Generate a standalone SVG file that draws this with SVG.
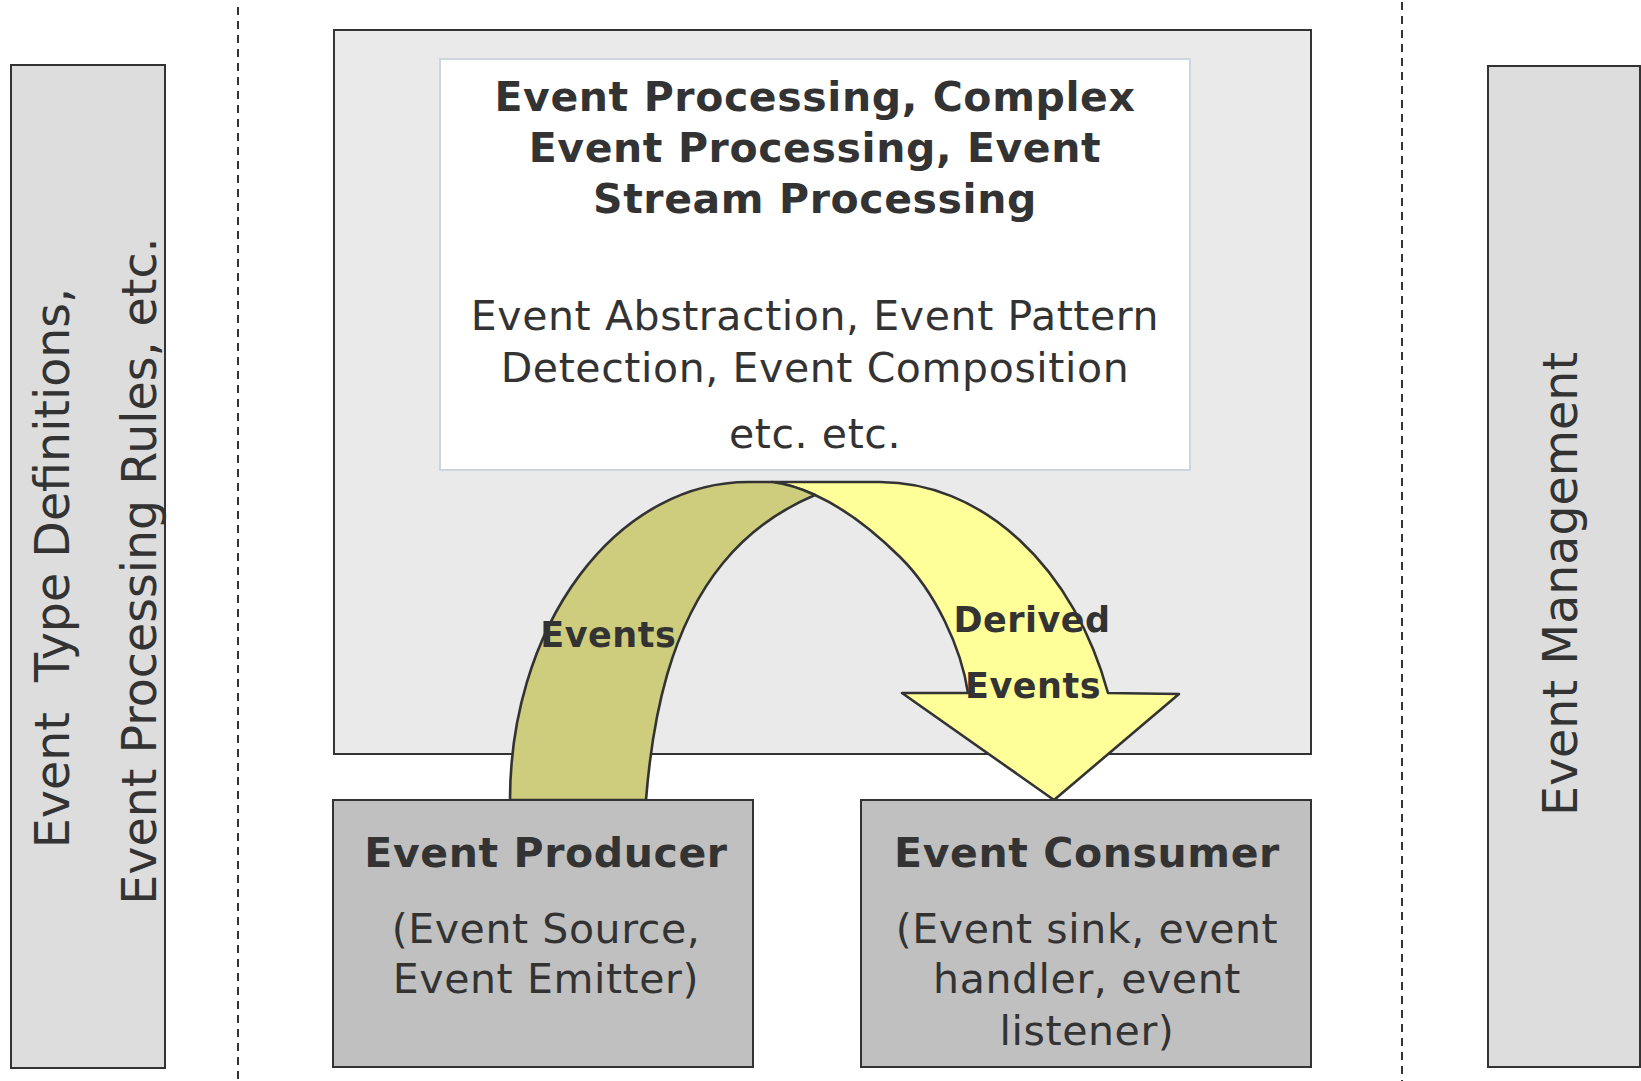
<svg xmlns="http://www.w3.org/2000/svg" width="1641" height="1081" viewBox="0 0 1641 1081">
<style>
.bx{stroke:#333;stroke-width:2}
.side{fill:#dddddd}
.main{fill:#eaeaea}
.pc{fill:#c0c0c0}
.t{font-family:"DejaVu Sans","Liberation Sans",sans-serif;fill:#333;text-anchor:middle}
.b{font-weight:bold;font-size:41px;letter-spacing:0.6px}
.r{font-size:41px;letter-spacing:0.6px}
.s{font-size:47.5px}
.lab{font-weight:bold;font-size:35px;letter-spacing:0.5px}
.dash{stroke:#333;stroke-width:2;stroke-dasharray:8 6;fill:none}
.arr{stroke:#333;stroke-width:2.6;stroke-linejoin:round}
</style>
<rect width="1641" height="1081" fill="#ffffff"/>
<g id="separators">
<line class="dash" x1="238" y1="7" x2="238" y2="1081"/>
<line class="dash" x1="1402" y1="2" x2="1402" y2="1081"/>
</g>
<g id="event-definitions">
<rect class="bx side" x="11" y="65" width="154" height="1003"/>
<text class="t s" xml:space="preserve" transform="translate(68.5,568) rotate(-90)">Event  Type Definitions,</text>
<text class="t s" transform="translate(155.5,571) rotate(-90)">Event Processing Rules, etc.</text>
</g>
<g id="event-management">
<rect class="bx side" x="1488" y="66" width="152" height="1001"/>
<text class="t s" transform="translate(1577,584) rotate(-90)">Event Management</text>
</g>
<g id="processing">
<rect class="bx main" x="334" y="30" width="977" height="724"/>
<rect x="440" y="59" width="750" height="411" fill="#ffffff" stroke="#cdd6e0" stroke-width="2"/>
<text class="t b" x="815" y="110.7">Event Processing, Complex</text>
<text class="t b" x="815" y="161.7">Event Processing, Event</text>
<text class="t b" x="815" y="212.7">Stream Processing</text>
<text class="t r" x="815" y="330">Event Abstraction, Event Pattern</text>
<text class="t r" x="815" y="381.7">Detection, Event Composition</text>
<text class="t r" x="815" y="447.7">etc. etc.</text>
</g>
<g id="connectors">
<g id="derived-events">
<path class="arr" fill="#ffff99" d="M772,482 L880,482 A242,318 0 0 1 1108,693 L1179,694 L1054,800 L902,693 L968,693 C961.3,648 935.5,592 900,557 C875.1,532.4 846.9,509.4 815,495 C800,488 788,484 772,482 Z"/>
<text class="t lab" x="1032" y="631.7">Derived</text>
<text class="t lab" x="1033" y="698.3">Events</text>
</g>
<g id="events">
<path class="arr" fill="#cdcd7d" d="M510,800 A238,318 0 0 1 748,482 L772,482 C788,484 800,488 815,495 C780,509.8 747.1,533.6 723,563 C670.3,627.2 652.6,717 646,800 Z"/>
<text class="t lab" x="608.3" y="646.7">Events</text>
</g>
</g>
<g id="event-producer">
<rect class="bx pc" x="333" y="800" width="420" height="267"/>
<text class="t b" x="546" y="867.3">Event Producer</text>
<text class="t r" x="546" y="943.3">(Event Source,</text>
<text class="t r" x="546" y="993.3">Event Emitter)</text>
</g>
<g id="event-consumer">
<rect class="bx pc" x="861" y="800" width="450" height="267"/>
<text class="t b" x="1087" y="867.3">Event Consumer</text>
<text class="t r" x="1087" y="943.3">(Event sink, event</text>
<text class="t r" x="1087" y="993.3">handler, event</text>
<text class="t r" x="1087" y="1045">listener)</text>
</g>
</svg>
